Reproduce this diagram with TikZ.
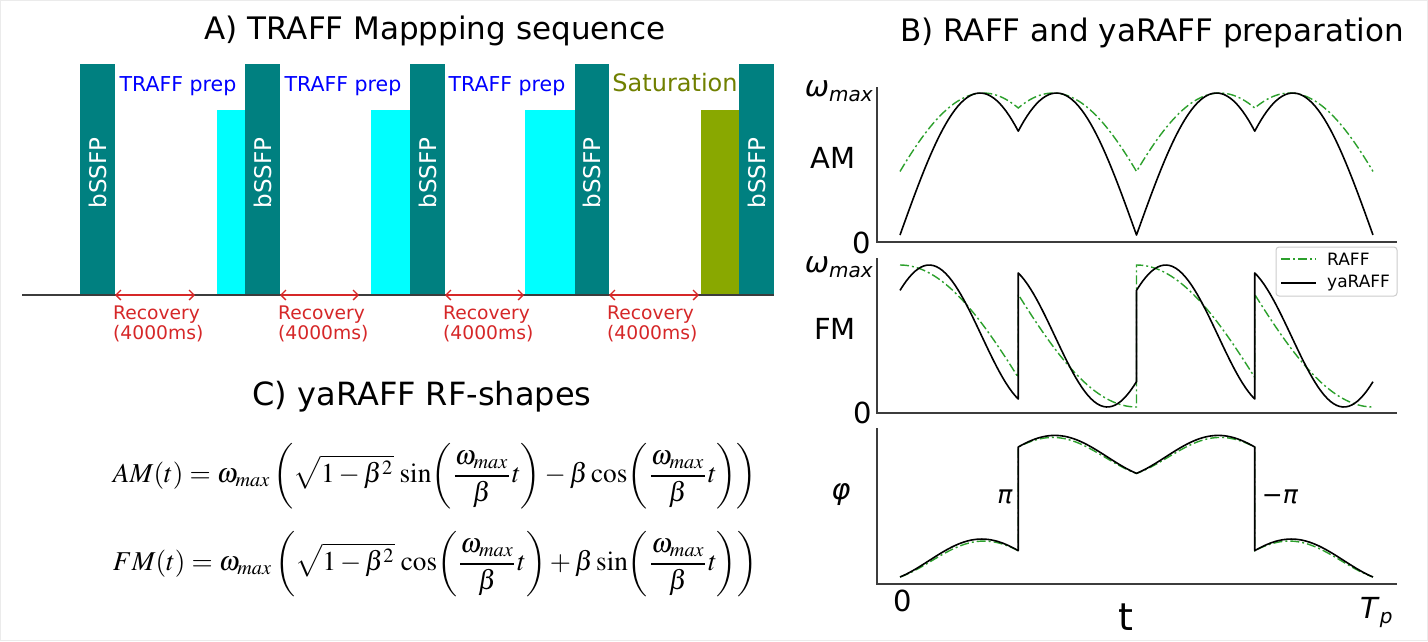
\documentclass[tikz,border=0pt]{standalone}
\usepackage{graphicx}
\usepackage{mathptmx}
\usepackage[no-math]{fontspec}
\setmainfont{DejaVu Sans}
\usetikzlibrary{arrows.meta}
\definecolor{tealbar}{RGB}{0,128,128}
\definecolor{cyanbar}{RGB}{0,255,255}
\definecolor{olivebar}{RGB}{137,168,0}
\definecolor{olivetext}{RGB}{112,128,0}
\definecolor{recred}{RGB}{214,39,40}
\definecolor{raffgreen}{RGB}{44,160,44}
\definecolor{axisgray}{RGB}{60,60,60}
\begin{document}
\begin{tikzpicture}[x=1pt,y=-1pt,
  title/.style={font=\fontsize{31}{37}\selectfont, inner sep=0pt, anchor=base},
  tbar/.style={fill=tealbar, draw=none, inner sep=0pt, anchor=south west, minimum width=35pt, minimum height=231pt},
  pbar/.style={draw=none, inner sep=0pt, anchor=south west, minimum height=185pt},
  bssfp/.style={text=white, rotate=90, font=\fontsize{23}{27}\selectfont, inner sep=0pt},
  preplbl/.style={text=blue, font=\fontsize{20.5}{24}\selectfont, inner sep=0pt, anchor=base},
  reclbl/.style={text=recred, font=\fontsize{18.7}{20}\selectfont, align=left, inner sep=0pt, anchor=north west},
  recarrow/.style={recred, line width=1.3pt, {Straight Barb[length=5pt,width=10pt]}-{Straight Barb[length=5pt,width=10pt]}},
  axisline/.style={axisgray, line width=1.3pt},
  lbl/.style={font=\fontsize{29}{34}\selectfont, inner sep=0pt},
  yaraff/.style={black, line width=1.6pt, line join=round},
  raff/.style={raffgreen, line width=1.4pt, dash pattern=on 9pt off 3pt on 2pt off 3pt},
  seg/.style={domain=0:1, samples=40, variable=\s}
]
\useasboundingbox (0,0) rectangle (1428,641);
\fill[white] (0,0) rectangle (1428,641);
\draw[black!8, line width=1pt] (0.5,0.5) rectangle (1427.5,640.5);

% ---------------- Panel A ----------------
\node[title] (tA) at (435,39) {A) TRAFF Mappping sequence};

\node[pbar, fill=cyanbar, minimum width=28pt] (c1) at (217,295) {};
\node[pbar, fill=cyanbar, minimum width=39pt] (c2) at (371,295) {};
\node[pbar, fill=cyanbar, minimum width=50pt] (c3) at (525,295) {};
\node[pbar, fill=olivebar, minimum width=38pt] (o1) at (701,295) {};

\node[tbar] (s1) at (80,295) {};
\node[tbar] (s2) at (245,295) {};
\node[tbar] (s3) at (410,295) {};
\node[tbar, minimum width=34pt] (s4) at (575,295) {};
\node[tbar] (s5) at (739,295) {};

\foreach \b in {s1,s2,s3,s4,s5}
  \node[bssfp] (\b t) at ([yshift=6.5pt]\b.center) {bSSFP};

\node[preplbl] (p1) at (178,91) {TRAFF prep};
\node[preplbl] (p2) at (343,91) {TRAFF prep};
\node[preplbl] (p3) at (507,91) {TRAFF prep};
\node[preplbl, text=olivetext, font=\fontsize{24}{28}\selectfont] (p4) at (675,91) {Saturation};

\coordinate (axL) at (22,295);
\coordinate (axR) at (774,295);
\draw[axisline, line width=1.5pt] (axL) -- (axR);

\coordinate (r1a) at (115,295); \coordinate (r1b) at (195,295);
\coordinate (r2a) at (280,295); \coordinate (r2b) at (359,295);
\coordinate (r3a) at (445,295); \coordinate (r3b) at (524,295);
\coordinate (r4a) at (609,295); \coordinate (r4b) at (699,295);
\draw[recarrow] (r1a) -- (r1b);
\draw[recarrow] (r2a) -- (r2b);
\draw[recarrow] (r3a) -- (r3b);
\draw[recarrow] (r4a) -- (r4b);
\node[reclbl] (q1) at (113,306) {Recovery\\(4000ms)};
\node[reclbl] (q2) at (278,306) {Recovery\\(4000ms)};
\node[reclbl] (q3) at (443,306) {Recovery\\(4000ms)};
\node[reclbl] (q4) at (607,306) {Recovery\\(4000ms)};

% ---------------- Panel C ----------------
\node[title, font=\fontsize{32}{38}\selectfont] (tC) at (422,405) {C) yaRAFF RF-shapes};
\node[inner sep=0pt] (eqAM) at (435,476) {\resizebox{644pt}{!}{$\displaystyle AM(t)=\omega_{max}\left(\sqrt{1-\beta^2}\,\sin\!\left(\frac{\omega_{max}}{\beta}t\right)-\beta\cos\!\left(\frac{\omega_{max}}{\beta}t\right)\right)$}};
\node[inner sep=0pt] (eqFM) at (435,564) {\resizebox{644pt}{!}{$\displaystyle FM(t)=\omega_{max}\left(\sqrt{1-\beta^2}\,\cos\!\left(\frac{\omega_{max}}{\beta}t\right)+\beta\sin\!\left(\frac{\omega_{max}}{\beta}t\right)\right)$}};

% ---------------- Panel B ----------------
\node[title] (tB) at (1152,41) {B) RAFF and yaRAFF preparation};

% AM axes
\coordinate (amT) at (877,87); \coordinate (amO) at (877,242); \coordinate (amR) at (1397,242);
\draw[axisline] (amT) -- (amO) -- (amR);
% FM axes
\coordinate (fmT) at (877,258); \coordinate (fmO) at (877,413); \coordinate (fmR) at (1397,413);
\draw[axisline] (fmT) -- (fmO) -- (fmR);
% phase axes
\coordinate (phT) at (877,428); \coordinate (phO) at (877,584); \coordinate (phR) at (1397,584);
\draw[axisline] (phT) -- (phO) -- (phR);

% labels
\node[lbl, anchor=base east] (wA) at (873,96) {\textit{ω}\raisebox{-5pt}{\fontsize{20}{24}\selectfont\textit{max}}};
\node[lbl] (lAM) at (833,158) {AM};
\node[lbl] (zA) at (862,243) {0};
\node[lbl, anchor=base east] (wF) at (873,272) {\textit{ω}\raisebox{-5pt}{\fontsize{20}{24}\selectfont\textit{max}}};
\node[lbl] (lFM) at (835,329) {FM};
\node[lbl] (zF) at (863,413) {0};
\node[lbl] (lph) at (841,495) {\textit{φ}};
\node[lbl, font=\fontsize{25}{30}\selectfont] (lpi) at (1005,497) {\textit{π}};
\node[lbl, font=\fontsize{25}{30}\selectfont] (lmpi) at (1280,497) {−\textit{π}};
\node[lbl] (z0) at (903,601) {0};
\node[lbl, font=\fontsize{38}{44}\selectfont] (lt) at (1126,617) {t};
\node[lbl, anchor=base west] (lTp) at (1360,618) {\textit{T}\raisebox{-5pt}{\fontsize{20}{24}\selectfont\textit{p}}};

% AM curves
\draw[raff] plot[seg] ({900+118.25*\s},{235-142*sin(26.57+90*\s)})
  -- plot[seg] ({1018.25+118.25*\s},{235-142*sin(116.57-90*\s)})
  -- plot[seg] ({1136.5+118.25*\s},{235-142*sin(26.57+90*\s)})
  -- plot[seg] ({1254.75+118.25*\s},{235-142*sin(116.57-90*\s)});
\draw[yaraff] plot[seg] ({900+118.25*\s},{235-142*sin(133*\s)})
  -- plot[seg] ({1018.25+118.25*\s},{235-142*sin(133-133*\s)})
  -- plot[seg] ({1136.5+118.25*\s},{235-142*sin(133*\s)})
  -- plot[seg] ({1254.75+118.25*\s},{235-142*sin(133-133*\s)});

% FM curves
\draw[raff] plot[seg] ({900+118.25*\s},{407-142*cos(78*\s)})
  -- plot[seg] ({1018.25+118.25*\s},{407-142*(1-cos(78-78*\s))})
  -- plot[seg] ({1136.5+118.25*\s},{407-142*cos(78*\s)})
  -- plot[seg] ({1254.75+118.25*\s},{407-142*(1-cos(78-78*\s))});
\draw[yaraff] plot[seg] ({900+118.25*\s},{407-71*(1+cos(-50+202.6*\s))})
  -- plot[seg] ({1018.25+118.25*\s},{407-71*(1-cos(152.6-202.6*\s))})
  -- plot[seg] ({1136.5+118.25*\s},{407-71*(1+cos(-50+202.6*\s))})
  -- plot[seg] ({1254.75+118.25*\s},{407-71*(1-cos(152.6-202.6*\s))});

% phase curves
\draw[raff] plot[seg] ({900+118.25*\s},{577-21.5*(sin(-50+202.6*\s)+0.766)+2.5*sin(180*\s)})
  -- plot[seg] ({1018.25+118.25*\s},{447-21.5*(sin(152.6-202.6*\s)-0.46)+2.5*sin(180*\s)})
  -- plot[seg] ({1136.5+118.25*\s},{447-21.5*(sin(-50+202.6*\s)-0.46)+2.5*sin(180*\s)})
  -- plot[seg] ({1254.75+118.25*\s},{577-21.5*(sin(152.6-202.6*\s)+0.766)+2.5*sin(180*\s)});
\draw[yaraff] plot[seg] ({900+118.25*\s},{577-21.5*(sin(-50+202.6*\s)+0.766)})
  -- plot[seg] ({1018.25+118.25*\s},{447-21.5*(sin(152.6-202.6*\s)-0.46)})
  -- plot[seg] ({1136.5+118.25*\s},{447-21.5*(sin(-50+202.6*\s)-0.46)})
  -- plot[seg] ({1254.75+118.25*\s},{577-21.5*(sin(152.6-202.6*\s)+0.766)});

% legend
\node[draw=black!20, fill=white, rounded corners=3pt, line width=1pt, minimum width=121pt, minimum height=49pt, inner sep=0pt] (leg) at (1336.5,271.5) {};
\coordinate (lg1a) at (1281,259); \coordinate (lg1b) at (1316,259);
\coordinate (lg2a) at (1281,283); \coordinate (lg2b) at (1316,283);
\draw[raff] (lg1a) -- (lg1b);
\draw[yaraff] (lg2a) -- (lg2b);
\node[font=\fontsize{17}{20}\selectfont, anchor=west, inner sep=0pt] (lgt1) at (1327,259) {RAFF};
\node[font=\fontsize{17}{20}\selectfont, anchor=west, inner sep=0pt] (lgt2) at (1327,283) {yaRAFF};
\end{tikzpicture}
\end{document}
